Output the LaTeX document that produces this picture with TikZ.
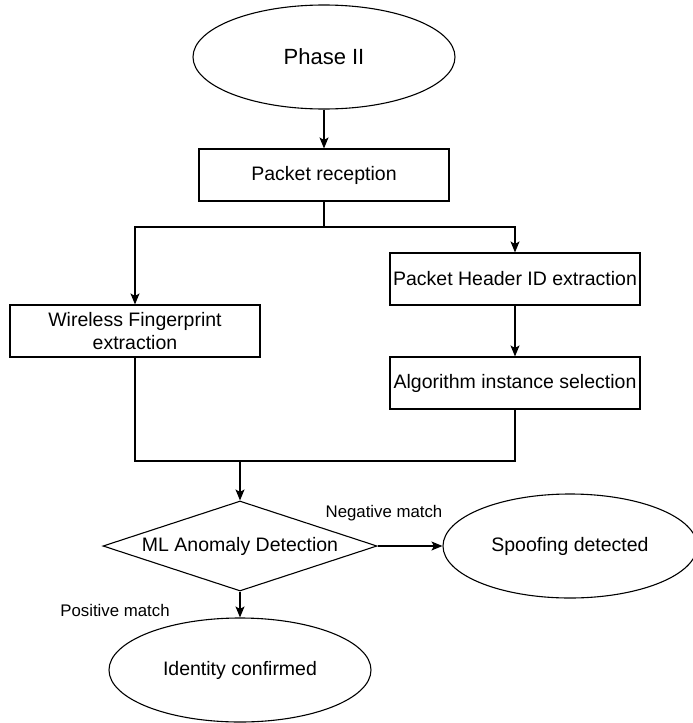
\documentclass[tikz,border=0pt]{standalone}
\usepackage{fontspec}
\setmainfont{Liberation Sans}
\usetikzlibrary{shapes.geometric,arrows.meta}

\begin{document}
\begin{tikzpicture}[
    x=1pt, y=-1pt,
    every node/.style={font=\fontsize{19.5}{22.5}\selectfont},
    terminal/.style={ellipse, draw, line width=1.1pt, minimum width=262pt, minimum height=104pt, inner sep=0pt, align=center},
    stepbox/.style={rectangle, draw, line width=1.1pt, minimum width=250pt, minimum height=52pt, inner sep=1pt, align=center},
    decision/.style={diamond, draw, line width=1.1pt, aspect=3.04, minimum width=274pt, minimum height=90pt, inner sep=0pt, align=center},
    lbl/.style={font=\fontsize{16.8}{19}\selectfont},
    line/.style={line width=1.1pt},
    arrow/.style={->, line width=1.1pt, >={Stealth[length=11pt,width=9pt,inset=2.5pt]}}
]
    \useasboundingbox (0,0) rectangle (693,723);

    \node[terminal, font=\fontsize{22}{25}\selectfont] (phase) at (324,57) {Phase II};
    \node[stepbox] (recv) at (324,175) {Packet reception};
    \node[stepbox] (hdr) at (515,279) {Packet Header ID extraction};
    \node[stepbox] (wfp) at (135,331) {Wireless Fingerprint\\extraction};
    \node[stepbox] (algo) at (515,383) {Algorithm instance selection};
    \node[decision] (ml) at (240,546) {ML Anomaly Detection};
    \node[terminal, minimum width=254pt] (spoof) at (570,546) {Spoofing detected};
    \node[terminal] (ident) at (240,670) {Identity confirmed};

    \node[lbl] (neg) at (384,513) {Negative match};
    \node[lbl] (pos) at (115,610) {Positive match};

    \coordinate (split) at (324,227);
    \coordinate (merge) at (240,461);

    \draw[arrow] (phase) -- (recv);
    \draw[line] (recv.south) -- (split);
    \draw[arrow] (split) -| (wfp.north);
    \draw[arrow] (split) -| (hdr.north);
    \draw[arrow] (hdr) -- (algo);
    \draw[line] (wfp.south) |- (algo.south |- merge) -- (algo.south);
    \draw[arrow] (merge) -- (ml.north);
    \draw[arrow] (ml.east) -- (spoof.west);
    \draw[arrow] (ml.south) -- (ident.north);
\end{tikzpicture}
\end{document}
